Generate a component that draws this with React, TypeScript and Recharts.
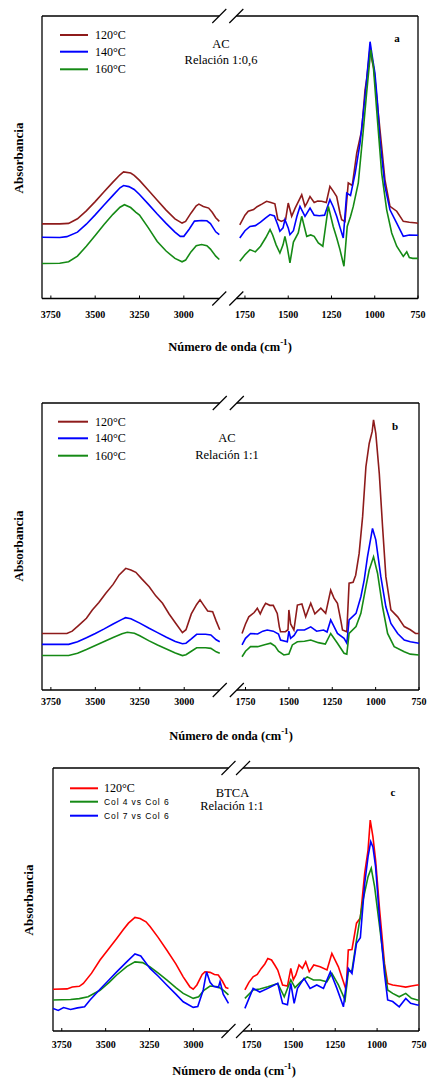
import React from 'react';
import { LineChart, Line, XAxis, YAxis, ReferenceLine } from 'recharts';

type Pt = [number, number];

// ---------- Data (wavenumber cm-1, absorbance in arbitrary units) ----------
// Panel a: AC, Relación 1:0,6
const A_120: Pt[] = [
  [3800, 26.4], [3700, 26.4], [3650, 26.6], [3600, 28.2], [3550, 31.0], [3500, 34.3], [3450, 37.8], [3400, 41.2], [3360, 43.8], [3340, 44.8], [3300, 44.4], [3280, 43.6], [3250, 41.8], [3200, 38.3], [3150, 34.8], [3100, 31.3], [3050, 28.2], [3010, 26.7], [2990, 27.3], [2960, 30.2], [2930, 32.8], [2915, 33.4], [2890, 32.6], [2860, 32.0], [2840, 30.5], [2820, 28.6], [2800, 27.3],
  [1780, 26.1], [1750, 29.5], [1731, 30.9], [1700, 31.5], [1680, 32.5], [1650, 33.5], [1625, 34.4], [1600, 34.0], [1577, 33.5], [1560, 28.0], [1540, 27.3], [1515, 28.0], [1500, 33.8], [1480, 29.1], [1460, 32.0], [1440, 34.5], [1422, 36.7], [1403, 32.6], [1390, 34.0], [1374, 36.1], [1350, 34.0], [1330, 34.5], [1307, 34.4], [1280, 34.0], [1259, 39.7], [1240, 38.0], [1220, 36.1], [1200, 30.0], [1191, 27.9], [1172, 27.3], [1153, 40.9], [1130, 40.0], [1104, 51.5], [1075, 59.7], [1056, 73.9], [1047, 77.4], [1035, 84.0], [1027, 88.7], [1015, 84.0], [1004, 80.9], [989, 71.5], [960, 53.8], [941, 42.0], [912, 32.6], [873, 30.9], [835, 27.3], [800, 27.0], [757, 26.7], [750, 26.5],
];
const A_140: Pt[] = [
  [3800, 21.7], [3700, 21.6], [3660, 21.9], [3600, 23.5], [3550, 26.3], [3500, 29.6], [3450, 33.1], [3400, 36.5], [3360, 39.2], [3340, 40.0], [3310, 39.6], [3280, 38.6], [3250, 36.8], [3200, 33.4], [3150, 29.9], [3100, 26.6], [3050, 23.5], [3020, 22.0], [3000, 22.0], [2970, 24.5], [2940, 27.4], [2900, 27.6], [2870, 27.5], [2850, 26.5], [2820, 23.6], [2800, 22.6],
  [1780, 21.4], [1750, 24.0], [1721, 25.5], [1690, 25.8], [1660, 27.0], [1630, 28.5], [1605, 29.7], [1580, 29.2], [1560, 26.0], [1548, 23.8], [1530, 25.0], [1519, 27.9], [1500, 25.0], [1490, 22.6], [1470, 24.0], [1450, 29.0], [1432, 32.6], [1403, 29.1], [1374, 32.0], [1350, 29.5], [1320, 29.3], [1290, 29.5], [1259, 35.0], [1240, 32.5], [1220, 29.1], [1200, 25.0], [1182, 21.4], [1162, 37.3], [1140, 36.5], [1113, 44.4], [1085, 55.0], [1056, 71.5], [1040, 82.0], [1027, 90.9], [1015, 86.0], [999, 79.8], [985, 70.0], [970, 56.2], [941, 39.7], [912, 31.4], [873, 26.7], [835, 22.0], [800, 22.5], [750, 22.4],
];
const A_160: Pt[] = [
  [3800, 12.4], [3700, 12.5], [3650, 13.0], [3600, 15.0], [3550, 18.5], [3500, 22.3], [3450, 26.2], [3400, 29.8], [3360, 32.3], [3335, 33.2], [3300, 32.2], [3270, 30.5], [3250, 29.5], [3200, 25.0], [3150, 20.2], [3100, 16.8], [3050, 14.2], [3010, 13.0], [2990, 13.6], [2960, 16.5], [2930, 18.7], [2900, 19.1], [2870, 18.7], [2850, 17.5], [2820, 15.0], [2800, 13.8],
  [1780, 13.2], [1750, 15.5], [1721, 17.3], [1690, 16.5], [1660, 18.5], [1630, 21.5], [1605, 24.4], [1590, 22.5], [1570, 19.0], [1548, 16.1], [1530, 19.0], [1519, 22.0], [1505, 18.0], [1490, 12.6], [1470, 20.0], [1442, 23.2], [1422, 29.1], [1393, 22.0], [1370, 22.5], [1350, 22.0], [1326, 19.7], [1300, 18.5], [1268, 32.6], [1240, 25.5], [1220, 21.5], [1201, 17.3], [1178, 11.4], [1159, 25.5], [1140, 29.0], [1124, 32.6], [1095, 40.9], [1066, 59.7], [1047, 72.7], [1023, 88.0], [1008, 82.1], [989, 66.8], [960, 44.4], [931, 31.4], [902, 23.2], [873, 18.5], [835, 14.9], [815, 16.5], [800, 14.5], [780, 14.2], [750, 14.2],
];

// Panel b: AC, Relación 1:1
const B_120: Pt[] = [
  [3800, 19.7], [3660, 19.7], [3630, 20.5], [3592, 22.6], [3550, 25.0], [3517, 27.9], [3480, 30.5], [3441, 33.7], [3400, 36.8], [3366, 40.1], [3329, 42.4], [3300, 41.8], [3272, 41.0], [3240, 38.8], [3197, 36.0], [3160, 32.8], [3122, 30.2], [3085, 26.5], [3047, 23.2], [3010, 20.0], [2990, 21.0], [2960, 26.5], [2930, 29.8], [2911, 31.4], [2890, 29.5], [2868, 27.5], [2840, 27.3], [2820, 24.0], [2800, 21.0],
  [1770, 19.7], [1750, 23.0], [1731, 25.5], [1700, 27.0], [1682, 28.5], [1665, 26.5], [1650, 28.5], [1634, 30.2], [1610, 29.5], [1590, 29.5], [1567, 26.7], [1555, 22.0], [1548, 20.3], [1520, 20.3], [1505, 21.0], [1500, 27.9], [1490, 23.0], [1471, 20.9], [1451, 29.6], [1425, 30.0], [1403, 25.5], [1374, 30.2], [1350, 26.5], [1316, 28.5], [1288, 26.7], [1259, 34.8], [1240, 32.0], [1220, 30.2], [1200, 24.0], [1191, 20.9], [1166, 20.3], [1153, 37.2], [1130, 37.5], [1115, 40.0], [1095, 47.6], [1075, 60.4], [1056, 77.8], [1037, 85.9], [1020, 90.0], [1012, 94.1], [999, 89.4], [979, 75.5], [960, 56.9], [941, 39.5], [912, 27.9], [873, 25.5], [835, 22.1], [800, 21.0], [770, 19.7], [750, 19.7],
];
const B_140: Pt[] = [
  [3800, 15.9], [3650, 15.9], [3600, 16.8], [3550, 18.2], [3500, 19.7], [3450, 21.3], [3400, 23.0], [3350, 24.6], [3330, 25.2], [3300, 24.8], [3250, 23.3], [3200, 21.6], [3150, 20.0], [3100, 18.4], [3050, 16.9], [3010, 16.1], [2990, 16.3], [2960, 17.8], [2930, 19.4], [2880, 19.4], [2850, 19.2], [2820, 17.5], [2800, 16.8],
  [1770, 15.7], [1750, 18.0], [1721, 19.7], [1680, 19.5], [1650, 20.5], [1625, 20.9], [1590, 20.5], [1560, 19.5], [1548, 17.4], [1509, 16.8], [1500, 20.5], [1490, 18.0], [1470, 19.0], [1451, 20.9], [1410, 20.9], [1374, 22.0], [1340, 20.5], [1300, 20.9], [1280, 20.2], [1259, 24.4], [1220, 19.7], [1182, 18.0], [1166, 16.3], [1153, 24.4], [1113, 26.7], [1085, 32.5], [1066, 38.3], [1047, 46.4], [1018, 56.3], [999, 52.3], [970, 39.5], [941, 29.0], [912, 23.2], [873, 19.7], [835, 17.4], [800, 16.8], [750, 16.3],
];
const B_160: Pt[] = [
  [3800, 12.0], [3650, 12.0], [3600, 12.8], [3550, 14.1], [3500, 15.5], [3450, 16.9], [3400, 18.3], [3350, 19.6], [3320, 20.1], [3280, 19.8], [3250, 18.9], [3200, 17.2], [3150, 15.7], [3100, 14.3], [3050, 12.9], [3010, 12.0], [2990, 12.3], [2960, 13.5], [2930, 14.7], [2880, 14.7], [2850, 14.5], [2820, 13.3], [2800, 12.8],
  [1770, 11.6], [1750, 13.5], [1721, 15.1], [1680, 15.1], [1640, 15.8], [1605, 16.3], [1580, 15.3], [1560, 13.5], [1529, 12.2], [1500, 12.5], [1480, 15.7], [1451, 16.8], [1410, 17.0], [1374, 17.4], [1330, 16.5], [1290, 16.0], [1259, 19.7], [1220, 16.3], [1182, 12.8], [1166, 12.5], [1153, 19.7], [1113, 22.1], [1085, 26.7], [1056, 36.0], [1037, 41.8], [1012, 46.4], [989, 40.7], [960, 29.0], [931, 19.7], [893, 15.1], [835, 13.3], [800, 12.5], [750, 12.2],
];

// Panel c: BTCA, Relación 1:1
const C_120: Pt[] = [
  [3800, 15.9], [3720, 16.0], [3690, 16.7], [3650, 17.0], [3627, 18.1], [3580, 22.0], [3532, 27.0], [3480, 31.5], [3437, 35.2], [3400, 38.5], [3370, 41.0], [3333, 43.2], [3304, 42.8], [3270, 41.5], [3247, 39.7], [3200, 35.5], [3152, 30.8], [3100, 25.5], [3058, 20.6], [3020, 16.8], [3001, 15.9], [2980, 17.5], [2950, 21.5], [2934, 22.5], [2905, 22.3], [2880, 21.5], [2858, 21.3], [2835, 19.0], [2815, 16.5], [2800, 16.2],
  [1789, 15.6], [1765, 18.5], [1740, 20.6], [1715, 21.5], [1691, 23.8], [1670, 25.5], [1652, 27.6], [1630, 27.0], [1610, 25.0], [1593, 23.2], [1564, 17.5], [1535, 17.1], [1515, 23.8], [1500, 19.5], [1485, 21.3], [1466, 25.1], [1446, 23.8], [1426, 26.3], [1405, 22.5], [1378, 25.1], [1340, 24.4], [1299, 23.2], [1270, 29.5], [1231, 24.4], [1201, 18.7], [1185, 15.6], [1172, 30.8], [1150, 31.0], [1123, 41.0], [1100, 43.0], [1074, 60.0], [1054, 68.8], [1041, 80.2], [1025, 73.9], [1009, 65.0], [985, 46.0], [956, 25.7], [937, 18.1], [907, 17.5], [868, 17.1], [829, 16.7], [795, 17.1], [760, 17.5], [750, 17.5],
];
const C_COL4: Pt[] = [
  [3800, 11.8], [3700, 12.0], [3650, 12.3], [3600, 13.0], [3532, 15.5], [3480, 18.5], [3437, 21.3], [3380, 24.5], [3333, 26.3], [3290, 26.0], [3247, 24.4], [3200, 22.0], [3152, 19.4], [3100, 16.5], [3058, 14.3], [3001, 12.4], [2970, 13.0], [2940, 15.5], [2905, 17.1], [2858, 16.8], [2830, 15.5], [2800, 13.7],
  [1789, 12.4], [1740, 15.6], [1700, 16.0], [1652, 16.8], [1593, 18.1], [1554, 13.0], [1515, 19.4], [1490, 16.5], [1456, 18.7], [1417, 20.6], [1380, 19.4], [1340, 19.4], [1300, 18.7], [1270, 21.9], [1231, 17.5], [1191, 11.8], [1172, 22.5], [1150, 23.0], [1123, 34.6], [1084, 49.8], [1054, 58.7], [1035, 61.9], [1015, 54.9], [985, 39.7], [956, 24.4], [937, 15.6], [907, 14.3], [868, 13.0], [829, 14.3], [795, 12.4], [760, 11.8], [750, 11.8],
];
const C_COL7: Pt[] = [
  [3800, 8.6], [3770, 7.8], [3740, 8.9], [3700, 8.2], [3660, 8.8], [3620, 9.2], [3589, 11.8], [3532, 15.9], [3480, 19.5], [3437, 22.5], [3380, 26.3], [3333, 29.3], [3300, 28.5], [3247, 23.8], [3200, 20.8], [3152, 17.5], [3100, 14.0], [3058, 11.1], [3001, 9.0], [2975, 9.3], [2944, 15.6], [2925, 22.5], [2905, 18.5], [2886, 17.0], [2858, 16.5], [2848, 18.8], [2830, 14.0], [2800, 10.5],
  [1789, 8.6], [1740, 16.2], [1700, 14.8], [1652, 16.2], [1593, 18.1], [1564, 10.5], [1535, 10.0], [1515, 18.1], [1495, 10.5], [1475, 16.2], [1436, 20.0], [1400, 16.2], [1360, 17.5], [1320, 16.2], [1279, 22.5], [1240, 16.2], [1201, 9.2], [1172, 23.8], [1150, 21.9], [1123, 33.3], [1100, 35.5], [1074, 56.1], [1054, 66.3], [1038, 72.0], [1025, 70.0], [1009, 62.5], [985, 42.2], [956, 21.9], [937, 11.8], [907, 11.2], [868, 9.2], [829, 12.4], [800, 10.5], [760, 9.9], [750, 9.9],
];

const TICK_WN = [3750, 3500, 3250, 3000, 1750, 1500, 1250, 1000, 750];
const TICK_LABELS = ['3750', '3500', '3250', '3000', '1750', '1500', '1250', '1000', '750'];

const DARK_RED = '#8e1b1b';
const BLUE = '#0000ff';
const GREEN = '#158a15';
const RED = '#ff0000';

const SERIF = '"Liberation Serif", "Times New Roman", serif';
const SANS = '"Liberation Sans", Arial, sans-serif';

type Series = { name: string; color: string; data: Pt[] };
type PanelCfg = {
  l: number; r: number; t: number; b: number;
  gap: number; rk: number; tickMargin: number;
  series: Series[];
};

const PANELS: PanelCfg[] = [
  {
    l: 42, r: 418, t: 16, b: 298.5, gap: 96, rk: 0.976, tickMargin: 15.5,
    series: [
      { name: '120°C', color: DARK_RED, data: A_120 },
      { name: '140°C', color: BLUE, data: A_140 },
      { name: '160°C', color: GREEN, data: A_160 },
    ],
  },
  {
    l: 42, r: 419, t: 403, b: 690, gap: 96, rk: 0.976, tickMargin: 11,
    series: [
      { name: '120°C', color: DARK_RED, data: B_120 },
      { name: '140°C', color: BLUE, data: B_140 },
      { name: '160°C', color: GREEN, data: B_160 },
    ],
  },
  {
    l: 53, r: 419, t: 768, b: 1031, gap: 83, rk: 0.955, tickMargin: 12.5,
    series: [
      { name: '120°C', color: RED, data: C_120 },
      { name: 'Col 4 vs Col 6', color: GREEN, data: C_COL4 },
      { name: 'Col 7 vs Col 6', color: BLUE, data: C_COL7 },
    ],
  },
];

const Slashes = (p: any) => {
  const x = p.x1;
  const yTop = Math.min(p.y1, p.y2);
  const yBot = Math.max(p.y1, p.y2);
  return (
    <g>
      {[yTop, yBot].map((y, i) => (
        <line key={i} x1={x - 7} y1={y + 7} x2={x + 7} y2={y - 7} stroke="#000" strokeWidth={1.2} />
      ))}
    </g>
  );
};

function Panel({ cfg }: { cfg: PanelCfg }) {
  const rightStart = 1000 + cfg.gap;
  const total = rightStart + 1050 * cfg.rk;
  const pos = (wn: number) => (wn >= 2000 ? 3800 - wn : rightStart + (1800 - wn) * cfg.rk);
  const tickPos = TICK_WN.map(pos);
  const top = cfg.t - 10;
  const height = cfg.b - top + 40;
  const width = 427;
  const build = (pts: Pt[]) => {
    const left = pts.filter((p) => p[0] >= 2000).map((p) => ({ x: pos(p[0]), y: p[1] }));
    const right = pts.filter((p) => p[0] < 2000).map((p) => ({ x: pos(p[0]), y: p[1] }));
    return [...left, { x: 1000 + cfg.gap / 2, y: null }, ...right];
  };
  const frame = { stroke: '#000', strokeWidth: 1.3 };
  return (
    <div style={{ position: 'absolute', left: 0, top, width, height }}>
      <LineChart width={width} height={height} margin={{ top: 10, left: cfg.l, right: width - cfg.r, bottom: 0 }}>
        <XAxis
          type="number"
          dataKey="x"
          domain={[0, total]}
          ticks={tickPos}
          interval={0}
          allowDataOverflow
          axisLine={false}
          tickSize={-3}
          tickMargin={cfg.tickMargin}
          height={40}
          tickLine={{ stroke: '#000', strokeWidth: 1 }}
          tick={{ fontSize: 10, fill: '#000', fontFamily: SERIF, fontWeight: 'bold' }}
          tickFormatter={(v: number) => {
            const i = tickPos.findIndex((p) => Math.abs(p - v) < 1e-6);
            return i >= 0 ? TICK_LABELS[i] : '';
          }}
        />
        <YAxis hide type="number" domain={[0, 100]} allowDataOverflow />
        <ReferenceLine x={0} {...frame} />
        <ReferenceLine x={total} {...frame} />
        <ReferenceLine segment={[{ x: 0, y: 100 }, { x: 1000, y: 100 }]} {...frame} />
        <ReferenceLine segment={[{ x: rightStart, y: 100 }, { x: total, y: 100 }]} {...frame} />
        <ReferenceLine segment={[{ x: 0, y: 0 }, { x: 1000, y: 0 }]} {...frame} />
        <ReferenceLine segment={[{ x: rightStart, y: 0 }, { x: total, y: 0 }]} {...frame} />
        <ReferenceLine x={1000} stroke="none" shape={Slashes} />
        <ReferenceLine x={rightStart} stroke="none" shape={Slashes} />
        {cfg.series.map((s) => (
          <Line
            key={s.name}
            data={build(s.data)}
            dataKey="y"
            stroke={s.color}
            strokeWidth={1.6}
            dot={false}
            activeDot={false}
            connectNulls={false}
            isAnimationActive={false}
            type="linear"
          />
        ))}
      </LineChart>
    </div>
  );
}

function XLabel({ x, y }: { x: number; y: number }) {
  return (
    <text x={x} y={y} textAnchor="middle" dominantBaseline="central" fontFamily={SERIF} fontWeight="bold" fontSize={12.5} fill="#000">
      <tspan>Número de onda (cm</tspan>
      <tspan dy={-5} fontSize={9}>-1</tspan>
      <tspan dy={5}>)</tspan>
    </text>
  );
}

function YLabel({ x, y }: { x: number; y: number }) {
  return (
    <text x={x} y={y} transform={`rotate(-90 ${x} ${y})`} textAnchor="middle" dominantBaseline="central" fontFamily={SERIF} fontWeight="bold" fontSize={13} fill="#000">
      Absorbancia
    </text>
  );
}

function LegendRows({ x1, x2, tx, ys, series, small }: { x1: number; x2: number; tx: number; ys: number[]; series: Series[]; small?: boolean[] }) {
  return (
    <g>
      {series.map((s, i) => (
        <g key={s.name}>
          <line x1={x1} x2={x2} y1={ys[i]} y2={ys[i]} stroke={s.color} strokeWidth={2} />
          {small && small[i] ? (
            <text x={tx} y={ys[i]} dominantBaseline="central" fontFamily={SANS} fontSize={8.5} letterSpacing={0.9} fill="#000">{s.name}</text>
          ) : (
            <text x={tx} y={ys[i]} dominantBaseline="central" fontFamily={SERIF} fontSize={12} fill="#000">{s.name}</text>
          )}
        </g>
      ))}
    </g>
  );
}

function Note({ x, y, children, bold, size }: { x: number; y: number; children: React.ReactNode; bold?: boolean; size?: number }) {
  return (
    <text x={x} y={y} textAnchor="middle" dominantBaseline="central" fontFamily={SERIF} fontSize={size || 12.5} fontWeight={bold ? 'bold' : 'normal'} fill="#000">
      {children}
    </text>
  );
}

export default function App() {
  return (
    <div style={{ position: 'absolute', left: 0, top: 0, width: 427, height: 1080, background: '#fff', overflow: 'hidden' }}>
      {PANELS.map((p, i) => (
        <Panel key={i} cfg={p} />
      ))}
      <svg width={427} height={1080} style={{ position: 'absolute', left: 0, top: 0, pointerEvents: 'none' }}>
        {/* Panel a */}
        <YLabel x={18} y={158} />
        <XLabel x={230} y={347} />
        <Note x={221} y={44}>AC</Note>
        <Note x={221} y={59.5}>Relación 1:0,6</Note>
        <Note x={397} y={37.5} bold size={11}>a</Note>
        <LegendRows x1={60} x2={88} tx={95} ys={[35, 51.7, 69.3]} series={PANELS[0].series} />
        {/* Panel b */}
        <YLabel x={18} y={546} />
        <XLabel x={231} y={736} />
        <Note x={227} y={437.7}>AC</Note>
        <Note x={227} y={455.3}>Relación  1:1</Note>
        <Note x={395} y={426} bold size={11}>b</Note>
        <LegendRows x1={58} x2={88} tx={95} ys={[421.7, 438.3, 455.7]} series={PANELS[1].series} />
        {/* Panel c */}
        <YLabel x={28} y={900} />
        <XLabel x={234} y={1071} />
        <Note x={232.5} y={792.8}>BTCA</Note>
        <Note x={232} y={806.2}>Relación 1:1</Note>
        <Note x={393} y={792} bold size={11}>c</Note>
        <LegendRows x1={70} x2={98} tx={104} ys={[788.3, 801.7, 815.7]} series={PANELS[2].series} small={[false, true, true]} />
      </svg>
    </div>
  );
}
